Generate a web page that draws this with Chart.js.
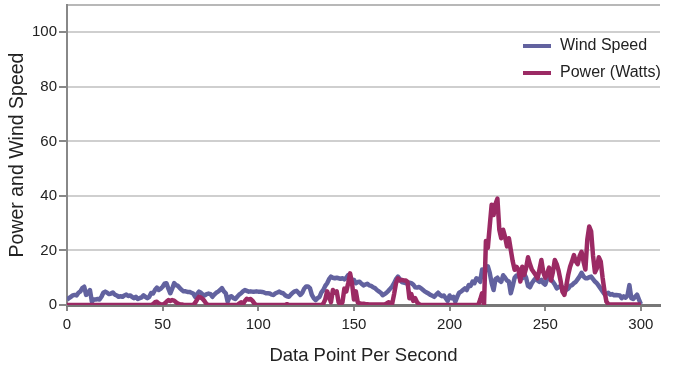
<!DOCTYPE html>
<html>
<head>
<meta charset="utf-8">
<script src="https://cdn.jsdelivr.net/npm/chart.js@4/dist/chart.umd.min.js"></script>
<style>
  html, body { margin: 0; padding: 0; background: #fff; }
  #chart { display: block; }
</style>
</head>
<body>
<canvas id="chart" width="673" height="370"></canvas>
<script>
// ---------- data (one value per second, 0..300) ----------

const seriesNames = ['Wind Speed', 'Power (Watts)'];
const xTicks = [0, 50, 100, 150, 200, 250, 300];
const yTicks = [0, 20, 40, 60, 80, 100];

const windSpeed = [
  2, 2.5, 3, 3.5, 3.7, 3.5, 4.5, 5, 6.2, 6.7,
  3.7, 4.5, 5.5, 1.2, 2, 2, 2.2, 2, 3, 4.5,
  4.9, 4.5, 4, 4.2, 4.6, 3.8, 3.5, 3, 3.2, 3,
  3.5, 3.8, 3.3, 3.5, 3, 2.5, 3, 2.2, 2.5, 2.8,
  3.5, 3, 2.5, 3, 4.4, 4.2, 5.5, 6.4, 5.5, 6,
  6.7, 7.8, 8, 6, 4.3, 6, 8, 7.3, 7, 6.2,
  5.5, 5, 5, 4.8, 4.8, 4.5, 4.2, 3, 4, 4.9,
  4.5, 3.8, 3.5, 4, 4.2, 4, 3, 3.8, 4.5, 4.9,
  5.5, 6.2, 5, 4.3, 1.2, 3, 3.2, 2.5, 2.2, 3,
  3.8, 4.3, 5, 5.5, 5.2, 4.9, 5, 4.9, 4.9, 5,
  4.9, 4.9, 4.8, 4.6, 4.3, 4.3, 4.2, 3.8, 3.7, 4.3,
  4.6, 4.9, 4.5, 4.3, 3.6, 3.2, 3, 3.8, 4.5, 5,
  5.2, 4.5, 3.7, 4.5, 6, 6.8, 6.8, 6.2, 3.7, 2.5,
  1.8, 2.5, 3, 4.6, 5.5, 7, 8, 9.5, 10.4, 10,
  9.8, 10, 9.8, 9.6, 9.8, 9.4, 10, 11, 9.5, 8,
  9.2, 8, 8.4, 8.5, 7.8, 7.2, 7.5, 7.8, 7.2, 7,
  6.5, 6.2, 5.5, 5, 4.5, 3.6, 4, 4.5, 5.2, 6,
  6.8, 8, 9.5, 10.4, 9.5, 8.4, 8.2, 8, 8.3, 8.2,
  8, 7.5, 6.5, 6.4, 6.6, 6.2, 5.6, 5, 4.6, 4.2,
  3.7, 3.4, 3, 3.8, 4.5, 3.7, 3.2, 3.5, 2.5, 1.5,
  3.5, 2.5, 3, 1.2, 3, 4.5, 4.9, 5.5, 6.1, 5.5,
  7.3, 7, 8.6, 8, 9.8, 9.5, 8.5, 13, 12, 13.5,
  14.2, 11.8, 8, 5.5, 9.5, 10, 9, 8.5, 10.9, 10,
  9, 8.6, 4.3, 7, 10, 10.8, 10.5, 10, 9.8, 11.5,
  10, 7, 6.5, 8, 9, 9.8, 9, 8.5, 9.2, 8,
  7.5, 9.5, 10.4, 9.5, 8.5, 7.5, 6.1, 6.5, 7, 6.5,
  5.5, 5.5, 6, 7, 7.3, 8, 8.5, 9.5, 10.5, 11.8,
  10.5, 9.8, 9.8, 10.2, 10.4, 9.5, 8.6, 8, 7, 6,
  5, 4, 4.2, 4.5, 3.8, 4, 3.6, 3.7, 3.6, 3.5,
  2.5, 3.2, 2.7, 3.4, 7.3, 2.5, 2.2, 3, 3.8, 2,
  0.3
];

const power = [
  0, 0, 0, 0, 0, 0, 0, 0, 0, 0,
  0, 0, 0, 0, 0, 0, 0, 0, 0, 0,
  0, 0, 0, 0, 0, 0, 0, 0, 0, 0,
  0, 0, 0, 0, 0, 0, 0, 0, 0, 0,
  0, 0, 0, 0, 0, 0.3, 1, 1.2, 0.5, 0.3,
  0.2, 0.5, 1.2, 1.8, 1.5, 1.8, 1.6, 1, 0.5, 0.3,
  0.2, 0, 0, 0, 0, 0, 0, 0.8, 2, 3,
  2.7, 2.2, 1.3, 0.3, 0, 0, 0, 0, 0, 0,
  0, 0, 0, 0, 0, 0, 0, 0, 0, 0,
  0.5, 1, 0.3, 1.5, 2.3, 2, 2.2, 1.5, 0.5, 0,
  0, 0, 0, 0, 0, 0, 0, 0, 0, 0,
  0, 0, 0, 0, 0, 0.3, 0, 0, 0, 0,
  0, 0, 0, 0, 0, 0, 0, 0, 0, 0,
  0, 0, 0, 0, 0.5, 2, 5, 3, 1, 5.5,
  4.5, 5, 1, 0, 1, 6, 5, 8, 11.6, 8,
  2, 5, 1, 0.6, 0.3, 0.5, 0.3, 0.3, 0.2, 0.2,
  0.2, 0.2, 0.2, 0.2, 0.2, 0.2, 0.2, 0.5, 1, 0.8,
  0.5, 4, 8, 9.8, 9, 9.2, 9, 9, 8.5, 2.5,
  4, 1.5, 2.5, 1, 0.3, 0, 0, 0, 0, 0,
  0, 0, 0, 0, 0, 0, 0, 0, 0, 0,
  0, 0, 0, 0, 0, 0, 0, 0, 0, 0,
  0, 0, 0, 0, 0, 0, 2, 4.3, 0, 23.5,
  21, 29, 36.8, 33, 37, 39, 27.6, 24.5, 27.6, 25,
  21.5, 24.5, 20.2, 16, 12.9, 14, 13, 8.6, 14, 11,
  13.5, 17.5, 15, 13, 12, 11, 9.8, 13, 16.5, 12,
  10, 11.5, 13.7, 9, 12, 16.5, 15, 12.5, 9, 4.9,
  3.7, 7, 11, 14, 16, 18.3, 16, 15, 18, 19.5,
  16, 13, 24, 28.8, 27, 18, 12, 13.5, 17.5, 16,
  10, 5, 1.2, 0.3, 0.2, 0.2, 0.2, 0.2, 0.2, 0.2,
  0.2, 0.2, 0.2, 0.2, 0.2, 0.2, 0.2, 0.2, 0.2, 0.2,
  0.2
];

const windColor = '#62629f';
const powerColor = '#9b2a64';
const fontFamily = '"Liberation Sans", Arial, Helvetica, sans-serif';

function toPoints(values) {
    return values.map((v, i) => ({ x: i, y: v }));
}

// legend inside the plot, top right
const insideLegend = {
    id: 'insideLegend',
    afterDraw(chart) {
        const ctx = chart.ctx;
        const items = [
            { text: seriesNames[0], color: windColor, y: 46 },
            { text: seriesNames[1], color: powerColor, y: 73 }
        ];
        ctx.save();
        ctx.font = '16px ' + fontFamily;
        ctx.textBaseline = 'middle';
        ctx.fillStyle = '#222';
        items.forEach(item => {
            ctx.strokeStyle = item.color;
            ctx.lineWidth = 4;
            ctx.beginPath();
            ctx.moveTo(523, item.y);
            ctx.lineTo(551, item.y);
            ctx.stroke();
            ctx.fillText(item.text, 560, item.y);
        });
        ctx.restore();
    }
};

const chart = new Chart(document.getElementById('chart'), {
    type: 'line',
    data: {
        datasets: [{
            label: seriesNames[0],
            data: toPoints(windSpeed),
            borderColor: windColor,
            borderWidth: 4.5,
            pointRadius: 0,
            tension: 0,
            borderJoinStyle: 'round',
            order: 1
        }, {
            label: seriesNames[1],
            data: toPoints(power),
            borderColor: powerColor,
            borderWidth: 4.5,
            pointRadius: 0,
            tension: 0,
            borderJoinStyle: 'round',
            order: 0
        }]
    },
    options: {
        responsive: false,
        animation: false,
        devicePixelRatio: 1,
        layout: { padding: { top: 5, right: 13, left: 0, bottom: 0 } },
        plugins: {
            legend: { display: false },
            tooltip: { enabled: false }
        },
        scales: {
            x: {
                type: 'linear',
                min: 0,
                max: 310,
                afterBuildTicks: s => { s.ticks = xTicks.map(v => ({ value: v })); },
                afterFit: s => { s.height = 65; },
                ticks: {
                    color: '#222',
                    font: { family: fontFamily, size: 15 },
                    padding: 5,
                    maxRotation: 0
                },
                grid: {
                    drawOnChartArea: false,
                    drawTicks: true,
                    tickLength: 6,
                    tickColor: '#888',
                    lineWidth: 2
                },
                border: { color: '#777', width: 3 },
                title: {
                    display: true,
                    text: 'Data Point Per Second',
                    color: '#222',
                    font: { family: fontFamily, size: 18.5 },
                    padding: { top: 0, bottom: 3 }
                }
            },
            y: {
                min: 0,
                max: 110,
                afterBuildTicks: s => { s.ticks = yTicks.concat([110]).map(v => ({ value: v })); },
                afterFit: s => { s.width = 67; s.paddingTop = 0; s.paddingBottom = 0; },
                ticks: {
                    color: '#222',
                    font: { family: fontFamily, size: 15 },
                    padding: 2,
                    callback: v => (v > 100 ? '' : v)
                },
                grid: {
                    color: ctx => (ctx.tick && ctx.tick.value === 110 ? '#b8b8b8' : '#cfcfcf'),
                    lineWidth: 2,
                    tickLength: 8,
                    tickColor: ctx => (ctx.tick && ctx.tick.value === 110 ? 'rgba(0,0,0,0)' : '#888')
                },
                border: { color: '#888', width: 2 },
                title: {
                    display: true,
                    text: 'Power and Wind Speed',
                    color: '#222',
                    font: { family: fontFamily, size: 19.5 },
                    padding: { top: 6, bottom: 0 }
                }
            }
        }
    },
    plugins: [insideLegend]
});
</script>
</body>
</html>
